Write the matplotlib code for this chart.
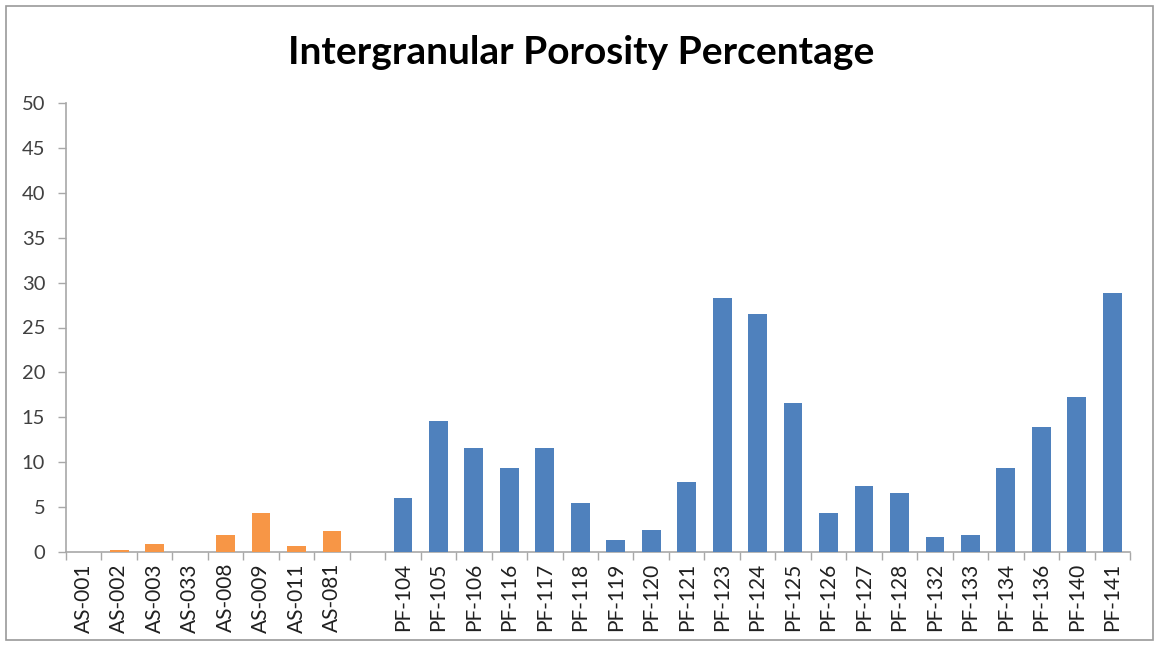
import matplotlib
matplotlib.use("Agg")
import matplotlib.pyplot as plt
import numpy as np

# Sample groups and intergranular porosity (%)
as_labels = ["AS-001", "AS-002", "AS-003", "AS-033", "AS-008", "AS-009", "AS-011", "AS-081"]
as_values = [0.0, 0.2, 0.9, 0.0, 1.9, 4.3, 0.7, 2.3]

pf_labels = ["PF-104", "PF-105", "PF-106", "PF-116", "PF-117", "PF-118", "PF-119",
             "PF-120", "PF-121", "PF-123", "PF-124", "PF-125", "PF-126", "PF-127",
             "PF-128", "PF-132", "PF-133", "PF-134", "PF-136", "PF-140", "PF-141"]
pf_values = [6.0, 14.6, 11.6, 9.4, 11.6, 5.5, 1.3, 2.5, 7.8, 28.3, 26.5,
             16.6, 4.3, 7.3, 6.6, 1.7, 1.9, 9.3, 13.9, 17.3, 28.8]

y_ticks = [0, 5, 10, 15, 20, 25, 30, 35, 40, 45, 50]

title = "Intergranular Porosity Percentage"

plt.rcParams["font.family"] = ["Lato", "DejaVu Sans"]

fig = plt.figure(figsize=(11.54, 6.47), dpi=100)
fig.patch.set_facecolor("white")

# thin frame around the chart area
frame = plt.Rectangle((6 / 1154, 7 / 647), 1147 / 1154, 634 / 647,
                      transform=fig.transFigure, fill=False,
                      edgecolor="#9a9a9a", linewidth=1.2)
fig.patches.append(frame)

ax = fig.add_axes([66 / 1154, (647 - 552) / 647, (1130 - 66) / 1154, (552 - 103) / 647])

# one empty slot separates the two groups
as_pos = np.arange(len(as_labels))
pf_pos = np.arange(len(pf_labels)) + len(as_labels) + 1
n_slots = len(as_labels) + 1 + len(pf_labels)

bar_w = 0.53
ax.bar(as_pos, as_values, width=bar_w, color="#F79646", zorder=3)
ax.bar(pf_pos, pf_values, width=bar_w, color="#4F81BD", zorder=3)

ax.set_xlim(-0.5, n_slots - 0.5)
ax.set_ylim(0, 50)

ax.set_yticks(y_ticks)
ax.set_yticklabels([str(v) for v in y_ticks], fontsize=14.5, color="#404040")

all_pos = list(as_pos) + list(pf_pos)
all_labels = as_labels + pf_labels
ax.set_xticks(all_pos)
ax.set_xticklabels(all_labels, rotation=90, fontsize=15, color="#202020")
ax.tick_params(axis="x", which="major", length=0, pad=8)
ax.set_xticks(np.arange(-0.5, n_slots, 1.0), minor=True)
ax.tick_params(axis="x", which="minor", length=6, color="#a8a8a8", width=1)
ax.tick_params(axis="y", which="major", length=6, color="#a8a8a8", width=1, pad=9)

for side in ("top", "right"):
    ax.spines[side].set_visible(False)
for side in ("left", "bottom"):
    ax.spines[side].set_color("#a8a8a8")
    ax.spines[side].set_linewidth(1.2)

fig.text(581 / 1154, 1 - 52 / 647, title, ha="center", va="center",
         fontsize=28, fontweight="bold", color="black")

fig.savefig("out.png", dpi=100)
